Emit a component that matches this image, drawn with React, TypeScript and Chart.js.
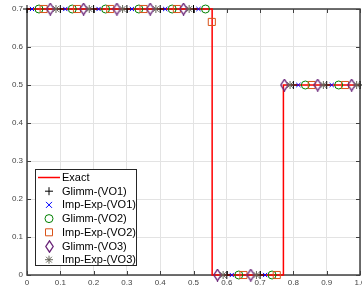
import React, { useEffect, useRef } from "react";
import { Chart, registerables } from "chart.js";

Chart.register(...registerables);

// Exact solution (step profile)
const exactX = [0, 0.556, 0.556, 0.77, 0.77, 1.0];
const exactY = [0.7, 0.7, 0, 0, 0.5, 0.5];

// Glimm-(VO1)  '+'
const g1X = [0, 0.1, 0.2, 0.3, 0.4, 0.5, 0.6, 0.7, 0.8, 0.9, 1.0];
const g1Y = [0.7, 0.7, 0.7, 0.7, 0.7, 0.7, 0, 0, 0.5, 0.5, 0.5];

// Imp-Exp-(VO1) 'x'
const ie1X = [0.015, 0.115, 0.215, 0.315, 0.415, 0.515, 0.615, 0.715, 0.815, 0.915];
const ie1Y = [0.7, 0.7, 0.7, 0.7, 0.7, 0.7, 0, 0, 0.5, 0.5];

// Glimm-(VO2) 'o'
const g2X = [0.036, 0.136, 0.236, 0.336, 0.436, 0.536, 0.636, 0.736, 0.836, 0.936];
const g2Y = [0.7, 0.7, 0.7, 0.7, 0.7, 0.7, 0, 0, 0.5, 0.5];

// Imp-Exp-(VO2) square
const ie2X = [0.05, 0.15, 0.25, 0.35, 0.45, 0.555, 0.65, 0.75, 0.855, 0.955];
const ie2Y = [0.7, 0.7, 0.7, 0.7, 0.7, 0.666, 0, 0, 0.5, 0.5];

// Glimm-(VO3) diamond
const g3X = [0.07, 0.17, 0.27, 0.37, 0.47, 0.572, 0.672, 0.773, 0.873, 0.975];
const g3Y = [0.7, 0.7, 0.7, 0.7, 0.7, 0, 0, 0.5, 0.5, 0.5];

// Imp-Exp-(VO3) '*'
const ie3X = [0.087, 0.187, 0.287, 0.387, 0.487, 0.589, 0.689, 0.79, 0.89, 0.99];
const ie3Y = [0.7, 0.7, 0.7, 0.7, 0.7, 0, 0, 0.5, 0.5, 0.5];

const legendLabels = [
  "Exact",
  "Glimm-(VO1)",
  "Imp-Exp-(VO1)",
  "Glimm-(VO2)",
  "Imp-Exp-(VO2)",
  "Glimm-(VO3)",
  "Imp-Exp-(VO3)",
];

const colors = {
  exact: "#ff0000",
  g1: "#000000",
  ie1: "#0000ff",
  g2: "#008000",
  ie2: "#d95319",
  g3: "#6a2478",
  ie3: "#66665a",
};

const pts = (xs: number[], ys: number[]) => xs.map((x, i) => ({ x, y: ys[i] }));

function makeDiamond(color: string) {
  const c = document.createElement("canvas");
  c.width = 9;
  c.height = 13;
  const ctx = c.getContext("2d")!;
  ctx.strokeStyle = color;
  ctx.lineWidth = 1.3;
  ctx.beginPath();
  ctx.moveTo(4.5, 0.8);
  ctx.lineTo(8.2, 6.5);
  ctx.lineTo(4.5, 12.2);
  ctx.lineTo(0.8, 6.5);
  ctx.closePath();
  ctx.stroke();
  return c;
}

function drawMarker(ctx: CanvasRenderingContext2D, kind: string, x: number, y: number, color: string, diamond: HTMLCanvasElement) {
  ctx.save();
  ctx.strokeStyle = color;
  ctx.lineWidth = 1;
  ctx.beginPath();
  if (kind === "plus") {
    ctx.moveTo(x - 4, y); ctx.lineTo(x + 4, y);
    ctx.moveTo(x, y - 4); ctx.lineTo(x, y + 4);
  } else if (kind === "cross") {
    ctx.moveTo(x - 3, y - 3); ctx.lineTo(x + 3, y + 3);
    ctx.moveTo(x - 3, y + 3); ctx.lineTo(x + 3, y - 3);
  } else if (kind === "circle") {
    ctx.arc(x, y, 4, 0, Math.PI * 2);
  } else if (kind === "rect") {
    ctx.rect(x - 3.5, y - 3.5, 7, 7);
  } else if (kind === "star") {
    ctx.moveTo(x - 4, y); ctx.lineTo(x + 4, y);
    ctx.moveTo(x, y - 4); ctx.lineTo(x, y + 4);
    ctx.moveTo(x - 2.9, y - 2.9); ctx.lineTo(x + 2.9, y + 2.9);
    ctx.moveTo(x - 2.9, y + 2.9); ctx.lineTo(x + 2.9, y - 2.9);
  }
  ctx.stroke();
  if (kind === "diamond") {
    ctx.drawImage(diamond, Math.round(x - diamond.width / 2), Math.round(y - diamond.height / 2));
  }
  ctx.restore();
}

export default function App() {
  const ref = useRef<HTMLCanvasElement | null>(null);

  useEffect(() => {
    const canvas = ref.current;
    if (!canvas) return;
    const diamond = makeDiamond(colors.g3);

    const axisBox = {
      id: "axisBox",
      beforeDatasetsDraw(chart: any) {
        const { ctx, chartArea } = chart;
        const xs = chart.scales.x;
        const ys = chart.scales.y;
        ctx.save();
        ctx.strokeStyle = "#404040";
        ctx.lineWidth = 1.5;
        ctx.strokeRect(chartArea.left, chartArea.top, chartArea.right - chartArea.left, chartArea.bottom - chartArea.top);
        ctx.lineWidth = 1;
        ctx.beginPath();
        xs.ticks.forEach((t: any) => {
          const px = Math.round(xs.getPixelForValue(t.value)) + 0.5;
          ctx.moveTo(px, chartArea.bottom);
          ctx.lineTo(px, chartArea.bottom - 4);
          ctx.moveTo(px, chartArea.top);
          ctx.lineTo(px, chartArea.top + 4);
        });
        ys.ticks.forEach((t: any) => {
          const py = Math.round(ys.getPixelForValue(t.value)) + 0.5;
          ctx.moveTo(chartArea.left, py);
          ctx.lineTo(chartArea.left + 4, py);
          ctx.moveTo(chartArea.right, py);
          ctx.lineTo(chartArea.right - 4, py);
        });
        ctx.stroke();
        ctx.restore();
      },
    };

    const kinds = ["line", "plus", "cross", "circle", "rect", "diamond", "star"];
    const kindColors = [colors.exact, colors.g1, colors.ie1, colors.g2, colors.ie2, colors.g3, colors.ie3];

    const legendBox = {
      id: "legendBox",
      afterDraw(chart: any) {
        const ctx = chart.ctx as CanvasRenderingContext2D;
        const bx = 35.5, by = 169.5, bw = 101, bh = 96;
        ctx.save();
        ctx.fillStyle = "#ffffff";
        ctx.fillRect(bx, by, bw, bh);
        ctx.strokeStyle = "#262626";
        ctx.lineWidth = 1;
        ctx.strokeRect(bx, by, bw, bh);
        ctx.font = "11px 'Liberation Sans', Arial, sans-serif";
        ctx.textBaseline = "middle";
        ctx.fillStyle = "#000000";
        legendLabels.forEach((label, i) => {
          const y = 177.5 + i * 13.7;
          if (kinds[i] === "line") {
            ctx.save();
            ctx.strokeStyle = colors.exact;
            ctx.lineWidth = 1.5;
            ctx.beginPath();
            ctx.moveTo(38, y);
            ctx.lineTo(60, y);
            ctx.stroke();
            ctx.restore();
          } else {
            drawMarker(ctx, kinds[i], 49, y, kindColors[i], diamond);
          }
          ctx.fillText(label, 62, y + 0.5);
        });
        ctx.restore();
      },
    };

    const markerDs = (label: string, data: any[], style: any, color: string, radius: number, order: number) => ({
      label,
      data,
      showLine: false,
      pointStyle: style,
      pointRadius: radius,
      pointHoverRadius: radius,
      pointBorderColor: color,
      pointBackgroundColor: "rgba(0,0,0,0)",
      borderColor: color,
      backgroundColor: "rgba(0,0,0,0)",
      pointBorderWidth: 1,
      clip: false,
      order,
    });

    const chart = new Chart(canvas, {
      type: "scatter",
      data: {
        datasets: [
          {
            label: legendLabels[0],
            data: pts(exactX, exactY),
            showLine: true,
            borderColor: colors.exact,
            backgroundColor: colors.exact,
            borderWidth: 1.5,
            pointRadius: 0,
            clip: false,
            order: 7,
          } as any,
          markerDs(legendLabels[1], pts(g1X, g1Y), "cross", colors.g1, 4, 6),
          markerDs(legendLabels[2], pts(ie1X, ie1Y), "crossRot", colors.ie1, 3, 5),
          markerDs(legendLabels[3], pts(g2X, g2Y), "circle", colors.g2, 4, 4),
          markerDs(legendLabels[4], pts(ie2X, ie2Y), "rect", colors.ie2, 5, 3),
          markerDs(legendLabels[5], pts(g3X, g3Y), diamond, colors.g3, 5, 2),
          markerDs(legendLabels[6], pts(ie3X, ie3Y), "star", colors.ie3, 4, 1),
        ],
      },
      options: {
        animation: false,
        responsive: false,
        maintainAspectRatio: false,
        events: [],
        layout: { padding: { top: 9, right: 15, bottom: 0, left: 0 } },
        plugins: {
          legend: { display: false },
          tooltip: { enabled: false },
          title: { display: false },
        },
        scales: {
          x: {
            type: "linear",
            min: 0,
            max: 1,
            ticks: {
              stepSize: 0.1,
              padding: 3,
              color: "#444444",
              font: { family: "'Liberation Sans', Arial, sans-serif", size: 8 },
              maxRotation: 0,
              autoSkip: false,
            },
            grid: { color: "#e3e3e3", lineWidth: 1, drawTicks: false },
            border: { display: false },
            afterFit: (s: any) => {
              s.height = 15;
            },
          },
          y: {
            type: "linear",
            min: 0,
            max: 0.7,
            ticks: {
              stepSize: 0.1,
              padding: 4,
              color: "#444444",
              font: { family: "'Liberation Sans', Arial, sans-serif", size: 8 },
              autoSkip: false,
            },
            grid: { color: "#e3e3e3", lineWidth: 1, drawTicks: false },
            border: { display: false },
            afterFit: (s: any) => {
              s.width = 27;
            },
          },
        },
      } as any,
      plugins: [axisBox, legendBox],
    });

    return () => chart.destroy();
  }, []);

  return (
    <div
      style={{
        position: "fixed",
        left: 0,
        top: 0,
        width: 362,
        height: 290,
        overflow: "hidden",
        background: "#ffffff",
      }}
    >
      <canvas ref={ref} width={375} height={290} style={{ display: "block", width: 375, height: 290 }} />
    </div>
  );
}
